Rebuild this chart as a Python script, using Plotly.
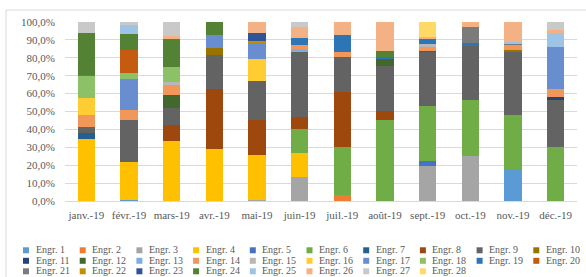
import plotly.graph_objects as go

months = ["janv.-19", "févr.-19", "mars-19", "avr.-19", "mai-19", "juin-19",
          "juil.-19", "août-19", "sept.-19", "oct.-19", "nov.-19", "déc.-19"]

# share (%) of each engineer per month, Jan..Dec
engr_1 = [0, 0.7, 0, 0, 0, 0, 0, 0, 0, 0, 17.9, 0]
engr_2 = [0, 0, 0, 0, 0, 0, 3.4, 0, 0, 0, 0, 0]
engr_3 = [0, 0, 0, 0, 0.6, 13.2, 0, 0, 19.6, 25.0, 0, 0]
engr_4 = [34.5, 21.1, 33.3, 29.2, 25.3, 13.6, 0, 0, 0, 0, 0, 0]
engr_5 = [0, 0, 0, 0, 0, 0, 0, 0, 2.6, 0, 0, 0]
engr_6 = [0, 0, 0, 0, 0, 13.6, 26.6, 45.4, 30.7, 31.6, 30.3, 30.0]
engr_7 = [3.5, 0, 0, 0, 0, 0, 0, 0, 0, 0, 0, 0]
engr_8 = [0, 0, 9.0, 33.4, 19.4, 6.3, 30.9, 4.7, 0, 0, 0, 0]
engr_9 = [3.3, 23.6, 9.7, 19.2, 21.6, 36.9, 19.4, 25.5, 30.7, 30.4, 35.4, 26.3]
engr_10 = [0, 0, 0, 3.7, 0, 0, 0, 0, 0, 0, 0.5, 0]
engr_11 = [0, 0, 0, 0, 0, 0, 0, 0, 0, 0, 0, 1.7]
engr_12 = [0, 0, 7.4, 0, 0, 0, 0, 3.9, 0.4, 0, 0, 0]
engr_13 = [0, 0, 0, 0, 0, 1.1, 0, 0, 0, 0, 0, 0]
engr_14 = [6.6, 5.4, 5.2, 0, 0, 2.6, 2.8, 0, 2.0, 0, 2.8, 4.3]
engr_15 = [0, 0, 1.9, 0, 0, 0, 0, 0, 1.9, 0, 0, 0]
engr_16 = [9.6, 0, 0, 0, 12.2, 0, 0, 0, 0, 0, 0, 0]
engr_17 = [0, 17.5, 0, 7.1, 9.0, 0, 0, 0, 0, 0, 0, 23.5]
engr_18 = [12.7, 3.2, 8.2, 0, 0, 0, 0, 0, 0, 0, 0, 0]
engr_19 = [0, 0, 0, 0, 0, 3.7, 9.8, 0.9, 2.8, 1.1, 0, 0]
engr_20 = [0.4, 12.7, 0, 0, 0, 0, 0, 0, 0, 0, 0, 0]
engr_21 = [0, 0, 0, 0, 0, 0, 0, 0, 0, 9.1, 1.3, 0]
engr_22 = [0, 0, 0, 0, 1.5, 0, 0, 0, 0, 0, 0, 0]
engr_23 = [0, 0, 0, 0, 4.3, 0, 0, 0, 0, 0, 0, 0]
engr_24 = [23.0, 9.3, 15.8, 7.4, 0, 0, 0, 3.6, 0, 0, 0, 0]
engr_25 = [0, 4.6, 0, 0, 0, 0, 0, 0, 0, 0, 0.7, 8.0]
engr_26 = [0, 0, 1.5, 0, 6.1, 6.1, 7.1, 16.0, 0.7, 2.8, 11.1, 1.5]
engr_27 = [6.4, 1.9, 8.0, 0, 0, 2.9, 0, 0, 0, 0, 0, 4.7]
engr_28 = [0, 0, 0, 0, 0, 0, 0, 0, 8.6, 0, 0, 0]

series = [engr_1, engr_2, engr_3, engr_4, engr_5, engr_6, engr_7, engr_8, engr_9, engr_10,
          engr_11, engr_12, engr_13, engr_14, engr_15, engr_16, engr_17, engr_18, engr_19, engr_20,
          engr_21, engr_22, engr_23, engr_24, engr_25, engr_26, engr_27, engr_28]
names = [f"Engr. {i}" for i in range(1, 29)]

colors = ["#5B9BD5", "#ED7D31", "#A5A5A5", "#FFC000", "#4472C4", "#70AD47",
          "#255E91", "#9E480E", "#636363", "#997300", "#264478", "#43682B",
          "#7CAFDD", "#F1975A", "#B7B7B7", "#FFCD33", "#698ED0", "#8CC168",
          "#2E75B6", "#C55A11", "#7B7B7B", "#BF9000", "#2F5597", "#548235",
          "#9DC3E6", "#F4B183", "#C9C9C9", "#FFD966"]

yticks = [0, 10, 20, 30, 40, 50, 60, 70, 80, 90, 100]
yticktext = [f"{v},0%" for v in yticks]

W, H = 586, 277
ML, MR, MT, MB = 65, 9, 22, 76
PW, PH = W - ML - MR, H - MT - MB

def px_x(p):
    return (p - ML) / PW

def px_y(p):
    return (H - MB - p) / PH

FONT = "Liberation Serif, Times New Roman, serif"
GRAY = "#595959"

fig = go.Figure()
for vals, name, col in zip(series, names, colors):
    fig.add_trace(go.Bar(x=months, y=vals, name=name, marker=dict(color=col, line=dict(width=0)),
                         showlegend=False))

# legend laid out as in the source: 10 entries per row, 3 rows
row_y = [249.5, 260, 270.5]
col_pitch = 56.7
text_x0 = 34.5
annotations = []
shapes = [dict(type="rect", xref="paper", yref="paper",
               x0=px_x(6), x1=px_x(600), y0=px_y(300), y1=px_y(10),
               line=dict(color="#D9D9D9", width=1), fillcolor="rgba(0,0,0,0)", layer="below")]
for i, (name, col) in enumerate(zip(names, colors)):
    r, c = divmod(i, 10)
    tx = text_x0 + c * col_pitch
    ty = row_y[r]
    annotations.append(dict(text=name, xref="paper", yref="paper", x=px_x(tx), y=px_y(ty),
                            xanchor="left", yanchor="middle", showarrow=False, borderpad=0,
                            font=dict(family=FONT, size=10, color=GRAY)))
    cx = tx - 8.5
    cy = ty + 0.8
    shapes.append(dict(type="rect", xref="paper", yref="paper",
                       x0=px_x(cx - 3), x1=px_x(cx + 3), y0=px_y(cy + 3), y1=px_y(cy - 3),
                       line=dict(width=0), fillcolor=col))

fig.update_layout(
    width=W, height=H,
    barmode="stack", bargap=0.6,
    margin=dict(l=ML, r=MR, t=MT, b=MB, autoexpand=False),
    paper_bgcolor="white", plot_bgcolor="white",
    font=dict(family=FONT, size=11, color=GRAY),
    showlegend=False,
    xaxis=dict(showgrid=False, showline=True, linecolor="#D9D9D9", linewidth=1,
               ticks="", tickfont=dict(family=FONT, size=11, color=GRAY), ticklabelstandoff=4),
    yaxis=dict(range=[0, 100], tickvals=yticks, ticktext=yticktext, showgrid=True,
               gridcolor="#D9D9D9", gridwidth=1, zeroline=False, showline=False, ticks="",
               tickfont=dict(family=FONT, size=11, color=GRAY), ticklabelstandoff=9),
    shapes=shapes,
    annotations=annotations,
)

fig.write_html("out.html", config={"displayModeBar": False},
               post_script="document.body.style.margin='0px';document.body.style.padding='0px';")
